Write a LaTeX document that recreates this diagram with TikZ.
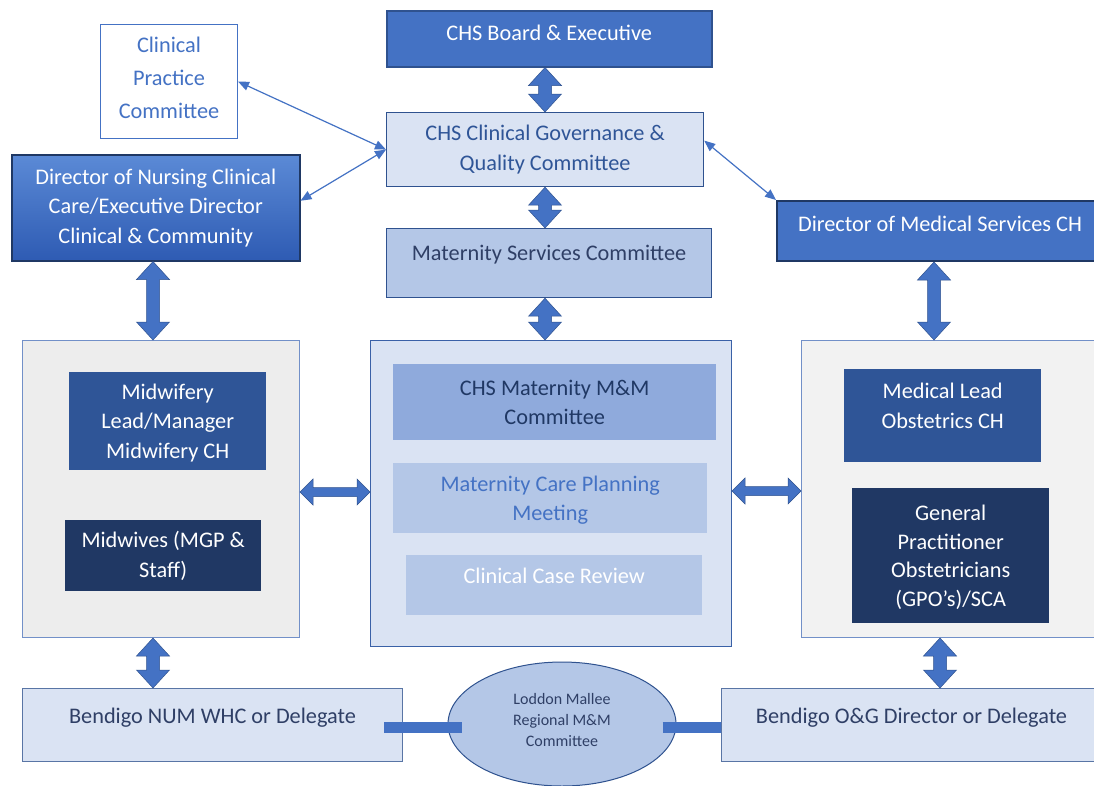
\documentclass[tikz,border=0pt]{standalone}
\usepackage{fontspec}
\setmainfont{Carlito}
\usetikzlibrary{arrows.meta,calc,shapes.geometric}
\definecolor{mblue}{HTML}{4472C4}
\definecolor{edgeblue}{HTML}{2F528F}
\definecolor{navyedge}{HTML}{1F3864}
\definecolor{lightfill}{HTML}{DAE3F3}
\definecolor{mediumfill}{HTML}{B4C7E7}
\definecolor{midfill}{HTML}{8FAADC}
\definecolor{dblue}{HTML}{2F5597}
\definecolor{navy}{HTML}{203864}
\definecolor{greyA}{HTML}{EDEDED}
\definecolor{greyB}{HTML}{F2F2F2}
\definecolor{txtdark}{HTML}{2F3F66}
\definecolor{gradtop}{HTML}{5B8AD6}
\definecolor{gradbot}{HTML}{2E5BB3}
\definecolor{bigedge}{HTML}{7290C8}
\newcommand\mainsize{\fontsize{22.3}{29.5}\selectfont}
\newcommand\smallsize{\fontsize{16}{21}\selectfont}
\tikzset{
  box/.style={rectangle, align=center, inner sep=0pt, anchor=north west, font=\mainsize},
  bigbox/.style={rectangle, inner sep=0pt, anchor=north west, line width=1pt},
  blockarrow/.style={fill=mblue, draw=edgeblue, line width=0.5pt, line join=miter},
  thinarrow/.style={draw=mblue, line width=1.2pt, {Triangle[length=11pt,width=9pt]}-{Triangle[length=11pt,width=9pt]}},
  bar/.style={draw=mblue, line width=11pt}
}
% vertical block double arrow between two points with the same x
\newcommand\vda[2]{\path[blockarrow] let \p1=#1, \p2=#2 in
  (\x1,\y1) -- ++(16.5pt,-18pt) -- ++(-10pt,0pt) -- (\x1+6.5pt,\y2+18pt) -- ++(10pt,0pt)
  -- (\x1,\y2) -- ++(-16.5pt,18pt) -- ++(10pt,0pt) -- (\x1-6.5pt,\y1-18pt) -- ++(-10pt,0pt) -- cycle;}
% horizontal block double arrow between two points with the same y
\newcommand\hda[2]{\path[blockarrow] let \p1=#1, \p2=#2 in
  (\x1,\y1) -- ++(13pt,13pt) -- ++(0pt,-8.5pt) -- (\x2-13pt,\y1+4.5pt) -- ++(0pt,8.5pt)
  -- (\x2,\y1) -- ++(-13pt,-13pt) -- ++(0pt,8.5pt) -- (\x1+13pt,\y1-4.5pt) -- ++(0pt,-8.5pt) -- cycle;}
\begin{document}
\begin{tikzpicture}[x=1pt,y=-1pt]
\useasboundingbox (0,0) rectangle (1094,785);
\clip (0,0) rectangle (1094,785);
\fill[white] (0,0) rectangle (1094,785);

% top column
\node[box, minimum width=137, minimum height=114, fill=white, draw=mblue, line width=1pt, text=mblue,
      font=\fontsize{22.3}{33}\selectfont, text depth=8pt] (cpc) at (100,24) {Clinical\\Practice\\Committee};
\node[box, minimum width=325, minimum height=56, fill=mblue, draw=edgeblue, line width=1.5pt, text=white, text depth=12pt] (board) at (386,10) {CHS Board \& Executive};
\node[box, minimum width=317, minimum height=74, fill=lightfill, draw=edgeblue, line width=1.2pt, text=dblue] (gov) at (386,112) {CHS Clinical Governance \&\\Quality Committee};
\node[box, minimum width=325, minimum height=69, fill=mediumfill, draw=edgeblue, line width=1.2pt, text=txtdark, text depth=20pt] (msc) at (386,228) {Maternity Services Committee};
\node[box, minimum width=288, minimum height=106, top color=gradtop, bottom color=gradbot, draw=navyedge, line width=1.5pt, text=white] (dn) at (11,154) {Director of Nursing Clinical\\Care/Executive Director\\Clinical \& Community};
\node[box, minimum width=326, minimum height=60, fill=mblue, draw=navyedge, line width=2pt, text=white, text depth=14pt] (dm) at (776,200) {Director of Medical Services CH};

% left group
\node[bigbox, minimum width=277, minimum height=297, fill=greyA, draw=bigedge] (lbig) at (22,340) {};
\node[box, minimum width=197, minimum height=98, fill=dblue, text=white, text depth=0pt] (mwl) at (69,372) {Midwifery\\Lead/Manager\\Midwifery CH};
\node[box, minimum width=196, minimum height=71, fill=navy, text=white] (mw) at (65,520) {Midwives (MGP \&\\Staff)};

% centre group
\node[bigbox, minimum width=361, minimum height=306, fill=lightfill, draw=mblue!85!black] (cbig) at (370,340) {};
\node[box, minimum width=323, minimum height=76, fill=midfill, text=navy] (mm) at (393,364) {CHS Maternity M\&M\\Committee};
\node[box, minimum width=314, minimum height=70, fill=mediumfill, text=mblue, text depth=0pt] (mcp) at (393,463) {Maternity Care Planning\\Meeting};
\node[box, minimum width=296, minimum height=60, fill=mediumfill, text=white, text depth=18pt] (ccr) at (406,555) {Clinical Case Review};

% right group
\node[bigbox, minimum width=300, minimum height=297, fill=greyB, draw=bigedge] (rbig) at (801,340) {};
\node[box, minimum width=197, minimum height=93, fill=dblue, text=white, text depth=20pt] (mlo) at (844,369) {Medical Lead\\Obstetrics CH};
\node[box, minimum width=197, minimum height=135, fill=navy, text=white, font=\fontsize{22.3}{28.7}\selectfont, text depth=0pt] (gpo) at (852,488) {General\\Practitioner\\Obstetricians\\(GPO’s)/SCA};

% bottom row
\node[box, minimum width=380, minimum height=73, fill=lightfill, draw=edgeblue!80, line width=1pt, text=txtdark, text depth=18pt] (num) at (22,688) {Bendigo NUM WHC or Delegate};
\node[box, minimum width=380, minimum height=73, fill=lightfill, draw=edgeblue!80, line width=1pt, text=txtdark, text depth=18pt] (ogd) at (721,688) {Bendigo O\&G Director or Delegate};
\node[ellipse, minimum width=228, minimum height=124, inner sep=0pt, fill=mediumfill, draw=edgeblue, line width=1pt,
      text=txtdark, align=center, font=\smallsize, text depth=8pt] (ell) at (562,724) {Loddon Mallee\\Regional M\&M\\Committee};

% connector coordinates
\coordinate (xa) at (545,0);
\coordinate (xl) at (153,0);
\coordinate (xr) at (934,0);
\coordinate (xr2) at (940,0);
\coordinate (ya) at (0,492);
\coordinate (yb) at (0,491);
\coordinate (yc) at (0,727.5);

% block arrows
\vda{(xa |- board.south)}{(xa |- gov.north)}
\vda{(xa |- gov.south)}{(xa |- msc.north)}
\vda{(xa |- msc.south)}{(xa |- cbig.north)}
\vda{(xl |- dn.south)}{(xl |- lbig.north)}
\vda{(xr |- dm.south)}{(xr |- rbig.north)}
\vda{(xl |- lbig.south)}{(xl |- num.north)}
\vda{(xr2 |- rbig.south)}{(xr2 |- ogd.north)}
\hda{(lbig.east |- ya)}{(cbig.west |- ya)}
\hda{(cbig.east |- yb)}{(rbig.west |- yb)}

% thin arrows
\draw[thinarrow] (cpc.east) -- (gov.west);
\draw[thinarrow] (gov.west) -- ([yshift=7]dn.east);
\draw[thinarrow] ([yshift=9]gov.east) -- (dm.north west);

% bars to the regional committee
\draw[bar] ([xshift=-19]num.east |- yc) -- ([xshift=14]ell.west |- yc);
\draw[bar] ([xshift=-14]ell.east |- yc) -- (ogd.west |- yc);
\end{tikzpicture}
\end{document}
